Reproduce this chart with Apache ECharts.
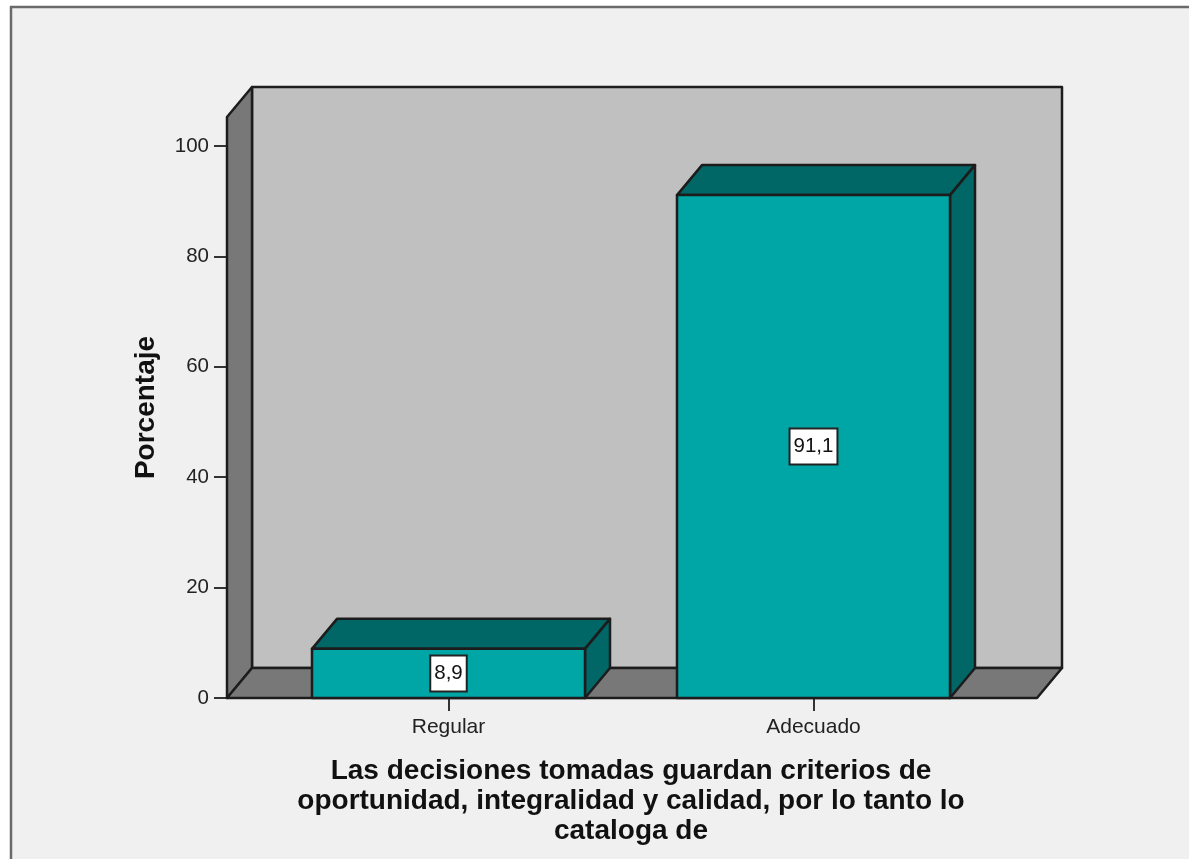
<!DOCTYPE html>
<html><head><meta charset="utf-8">
<style>html,body{margin:0;padding:0;background:#fff}#c{width:1189px;height:859px}</style>
<script src="https://cdn.jsdelivr.net/npm/echarts@6/dist/echarts.min.js"></script>
</head><body><div id="c"></div>
<script>
const categories = ['Regular', 'Adecuado'];
const values = [8.9, 91.1];
const valueLabels = ['8,9', '91,1'];
const yTicks = [0, 20, 40, 60, 80, 100];
const xTitle = 'Las decisiones tomadas guardan criterios de\noportunidad, integralidad y calidad, por lo tanto lo\ncataloga de';
const yTitle = 'Porcentaje';

const DX = 25, DY = -30, PADL = 39, PADR = 41, FONT = '"Liberation Sans", Arial, sans-serif';
const EDGE = '#1c1c1c', FRONT = '#00A6A6', DARK = '#006666', WALL = '#C0C0C0', SIDE = '#787878';
function poly(pts, fill, lw) {
  return { type: 'polygon', shape: { points: pts }, style: { fill, stroke: EDGE, lineWidth: lw || 2.5, lineJoin: 'round' } };
}
const chart = echarts.init(document.getElementById('c'), null, { renderer: 'canvas' });
chart.setOption({
  animation: false,
  textStyle: { fontFamily: FONT },
  graphic: [{ type: 'rect', z: -10, shape: { x: 11, y: 7, width: 1400, height: 1000 }, style: { fill: '#F0F0F0', stroke: '#6a6a6a', lineWidth: 2.5 } }],
  grid: { left: 266, width: 730, top: 117, height: 581, outerBoundsMode: 'none' },
  xAxis: {
    type: 'category', data: categories,
    axisLine: { show: false },
    axisTick: { show: true, alignWithLabel: true, length: 13, lineStyle: { color: '#333', width: 2 } },
    axisLabel: { fontSize: 21, color: '#222', margin: 19, fontFamily: FONT },
    name: xTitle, nameLocation: 'middle', nameGap: 58,
    nameTextStyle: { fontSize: 28, fontWeight: 'bold', color: '#111', lineHeight: 30, fontFamily: FONT }
  },
  yAxis: {
    type: 'value', min: 0, max: 105.25, interval: 20, offset: 39,
    splitLine: { show: false },
    axisLine: { show: false },
    axisTick: { show: true, length: 13, customValues: yTicks, lineStyle: { color: '#333', width: 2 } },
    axisLabel: { fontSize: 20.5, color: '#222', margin: 18, padding: [3, 0, 0, 0], customValues: yTicks, fontFamily: FONT },
    name: yTitle, nameLocation: 'middle', nameGap: 67, nameRotate: 90,
    nameTextStyle: { fontSize: 28, fontWeight: 'bold', color: '#111', fontFamily: FONT }
  },
  series: [
    {
      type: 'custom', coordinateSystem: 'cartesian2d', z: 2, silent: true, data: [[0, 0]],
      renderItem(params, api) {
        const cs = params.coordSys;
        const l = cs.x - PADL, r = cs.x + cs.width + PADR, b = cs.y + cs.height, t = cs.y;
        return { type: 'group', children: [
          poly([[l + DX, t + DY], [r + DX, t + DY], [r + DX, b + DY], [l + DX, b + DY]], WALL),
          poly([[l, t], [l + DX, t + DY], [l + DX, b + DY], [l, b]], SIDE),
          poly([[l, b], [l + DX, b + DY], [r + DX, b + DY], [r, b]], SIDE)
        ] };
      }
    },
    {
      type: 'custom', coordinateSystem: 'cartesian2d', z: 3, silent: true,
      data: values.map((v, i) => [i, v]),
      encode: { x: 0, y: 1 },
      renderItem(params, api) {
        const i = api.value(0), v = api.value(1);
        const top = api.coord([i, v]), base = api.coord([i, 0]);
        const w = api.size([1, 0])[0] * 0.748;
        const x0 = top[0] - w / 2, x1 = top[0] + w / 2, y0 = top[1], y1 = base[1];
        return { type: 'group', children: [
          poly([[x0, y0], [x0 + DX, y0 + DY], [x1 + DX, y0 + DY], [x1, y0]], DARK),
          poly([[x1, y0], [x1 + DX, y0 + DY], [x1 + DX, y1 + DY], [x1, y1]], DARK),
          poly([[x0, y0], [x1, y0], [x1, y1], [x0, y1]], FRONT),
          { type: 'text', z2: 10, style: {
            text: valueLabels[params.dataIndex], x: top[0], y: (y0 + y1) / 2,
            align: 'center', verticalAlign: 'middle', fill: '#111', font: '20.5px ' + FONT,
            backgroundColor: '#fff', borderColor: '#222', borderWidth: 2, padding: [7, 3, 6, 3]
          } }
        ] };
      }
    }
  ]
});
</script></body></html>
